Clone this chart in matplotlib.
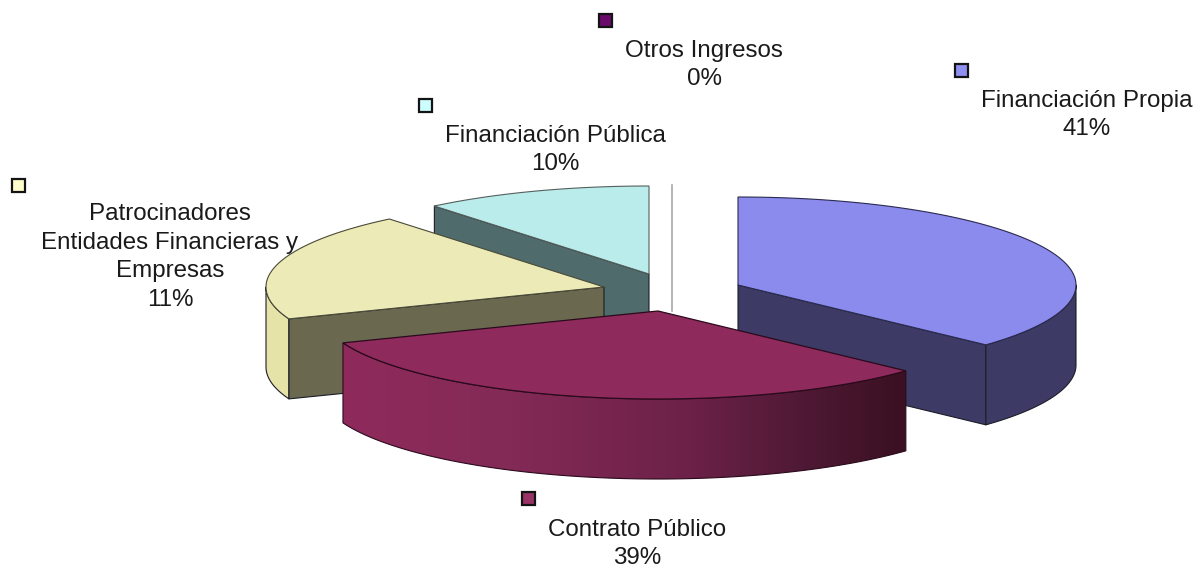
import matplotlib
matplotlib.use('Agg')
import matplotlib.pyplot as plt
import numpy as np
from matplotlib.colors import LinearSegmentedColormap
from matplotlib.patches import Polygon, Rectangle

plt.rcParams['font.family'] = ['Liberation Sans', 'DejaVu Sans']

# printed labels
categories = ['Financiación Propia', 'Contrato Público',
              'Patrocinadores\nEntidades Financieras y\nEmpresas',
              'Financiación Pública', 'Otros Ingresos']
percent_labels = [41, 39, 11, 10, 0]

# share of the circle each slice really takes in the drawing (differs from the labels)
drawn_share = [36.9, 32.2, 19.95, 10.95, 0.0]

top_colors = ['#8b8bee', '#8f2a5c', '#ecebb8', '#bbecec', '#6a0a6a']
cut_colors = ['#3d3b66', '#7d2650', '#6a6950', '#4f6b6c', '#a8a8a8']
key_colors = ['#9090f2', '#993366', '#ffffcc', '#ccffff', '#6a0a6a']

# pixel layout: apex of each slice, key square, text centre
apex = [(738, 285), (658, 311), (604, 287), (649, 274), (672, 311)]
key_pos = [(961, 70), (528, 498), (18, 185), (425, 105), (605, 20)]
text_pos = [(1087, 115), (637, 544), (170, 257), (555, 150), (704, 65)]
RX, RY, DEPTH = 338, 88, 80

edges = np.cumsum([0] + drawn_share) * 3.6


def arc(cx, cy, t0, t1, n=120):
    t = np.radians(np.linspace(t0, t1, n))
    return np.column_stack([cx + RX * np.sin(t), cy - RY * np.cos(t)])


def outer_side(cx, cy, t0, t1):
    a = arc(cx, cy, t0, t1)
    return np.vstack([a, a[::-1] + [0, DEPTH]])


def cut_face(cx, cy, t):
    p = arc(cx, cy, t, t, 1)[0]
    return [(cx, cy), tuple(p), (p[0], p[1] + DEPTH), (cx, cy + DEPTH)]


fig, ax = plt.subplots(figsize=(12.03, 5.69), dpi=100)
fig.subplots_adjust(0, 0, 1, 1)
edge = dict(edgecolor='#1c1c28', linewidth=0.8, joinstyle='round')

# Otros Ingresos, the 0% slice is only a line
ax.plot([apex[4][0]] * 2, [apex[4][1] - RY - 38, apex[4][1]], color='#a8a8a8', lw=1.2, zorder=1)

# Financiación Pública
cx, cy = apex[3]
ax.add_patch(Polygon(cut_face(cx, cy, edges[3]), facecolor=cut_colors[3], zorder=2, **edge))
ax.add_patch(Polygon(np.vstack([[cx, cy], arc(cx, cy, edges[3], edges[4])]),
                     facecolor=top_colors[3], zorder=2, edgecolor='#55605c', linewidth=0.8))

# Patrocinadores
cx, cy = apex[2]
ax.add_patch(Polygon(outer_side(cx, cy, edges[2], 270), facecolor='#e6e3a8', zorder=3, **edge))
ax.add_patch(Polygon(cut_face(cx, cy, edges[2]), facecolor=cut_colors[2], zorder=3, **edge))
ax.add_patch(Polygon(np.vstack([[cx, cy], arc(cx, cy, edges[2], edges[3])]),
                     facecolor=top_colors[2], zorder=3, edgecolor='#4a4a38', linewidth=0.8))

# Financiación Propia
cx, cy = apex[0]
ax.add_patch(Polygon(cut_face(cx, cy, edges[1]), facecolor=cut_colors[0], zorder=4, **edge))
ax.add_patch(Polygon(outer_side(cx, cy, 90, edges[1]), facecolor=cut_colors[0], zorder=4, **edge))
ax.add_patch(Polygon(np.vstack([[cx, cy], arc(cx, cy, edges[0], edges[1])]),
                     facecolor=top_colors[0], zorder=4, edgecolor='#2a2a50', linewidth=0.8))

# Contrato Público, the side has a left to right shading
cx, cy = apex[1]
side = outer_side(cx, cy, edges[1], edges[2])
shade = LinearSegmentedColormap.from_list('side', [(0, '#8f2b5c'), (0.3, '#832a56'), (0.62, '#6c2148'),
                                                   (0.8, '#511a36'), (1, '#3a1022')])
x0, x1 = side[:, 0].min(), side[:, 0].max()
y0, y1 = side[:, 1].min(), side[:, 1].max()
img = ax.imshow(np.linspace(0, 1, 256).reshape(1, -1), cmap=shade, extent=(x0, x1, y1, y0),
                aspect='auto', interpolation='bilinear', zorder=5)
side_patch = Polygon(side, facecolor='none', zorder=5, edgecolor='#2a0a1c', linewidth=0.8)
ax.add_patch(side_patch)
img.set_clip_path(side_patch)
ax.add_patch(Polygon(np.vstack([[cx, cy], arc(cx, cy, edges[1], edges[2])]),
                     facecolor=top_colors[1], zorder=5, edgecolor='#2a0a1c', linewidth=0.9))

# key squares and labels
for name, pct, col, (kx, ky), (tx, ty) in zip(categories, percent_labels, key_colors, key_pos, text_pos):
    ax.add_patch(Rectangle((kx - 6.5, ky - 6.5), 13, 13, facecolor=col, edgecolor='#141414', linewidth=1.6, zorder=6))
    ax.text(tx, ty, f'{name}\n{pct}%', ha='center', va='center', fontsize=17.4,
            color='#1a1a1a', linespacing=1.38, zorder=7)

ax.set_xlim(0, 1203)
ax.set_ylim(569, 0)
ax.axis('off')
fig.savefig('out.png', dpi=100)
